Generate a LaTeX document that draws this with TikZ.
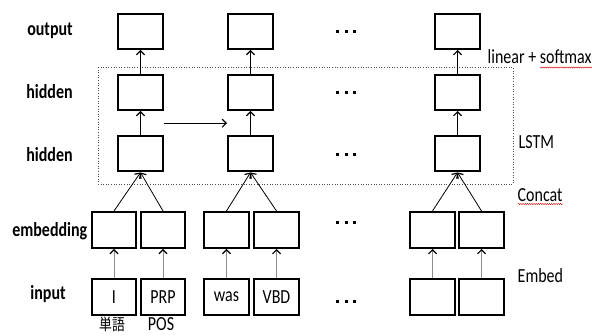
\documentclass[tikz,border=0pt]{standalone}
\usepackage{fontspec}
\setmainfont{Carlito}[FakeStretch=0.8]
\newfontfamily\cjk{Noto Sans CJK JP}[FakeStretch=0.8]
\usetikzlibrary{arrows.meta,calc,decorations.pathmorphing}
\begin{document}
\begin{tikzpicture}[x=1pt,y=-1pt,
  box/.style={draw=black,line width=2pt,minimum width=45pt,minimum height=35pt,inner sep=0pt,font=\fontsize{20}{22}\selectfont},
  ebox/.style={box,minimum width=44.5pt,minimum height=36pt},
  arr/.style={line width=0.8pt,-{Straight Barb[length=4pt,width=8pt,line width=1.2pt]}},
  garr/.style={line width=1pt,draw=black!45,-{Straight Barb[length=4pt,width=8pt,line width=1.2pt,color=black]}},
  lab/.style={font=\fontsize{20}{22}\selectfont\bfseries,inner sep=0pt},
  rlab/.style={font=\fontsize{20}{22}\selectfont,inner sep=0pt,anchor=west},
  squig/.style={draw=red!85!black,line width=0.4pt,decorate,decoration={snake,amplitude=0.6pt,segment length=2.2pt}}
]
\useasboundingbox (0,0) rectangle (592,336);
% dotted LSTM frame
\draw[dotted,line width=0.6pt,black!70] (98,67) rectangle (513,184);
% columns
\foreach \c/\x in {a/140.5,b/250.5,c/457.5}{
  \node[box] (out\c) at (\x,31.5) {};
  \node[box] (htwo\c) at (\x,92.5) {};
  \node[box] (hone\c) at (\x,154) {};
}
% embedding and input
\node[ebox] (ea1) at (114,230) {};
\node[ebox] (ea2) at (163,230) {};
\node[ebox] (eb1) at (226.5,230) {};
\node[ebox] (eb2) at (276.5,230) {};
\node[ebox] (ec1) at (432.5,230) {};
\node[ebox] (ec2) at (481.5,230) {};
\node[ebox] (ia1) at (114,297) {I};
\node[ebox] (ia2) at (163,297) {PRP};
\node[ebox] (ib1) at (226.5,297) {was};
\node[ebox] (ib2) at (276.5,297) {VBD};
\node[ebox] (ic1) at (432.5,297) {};
\node[ebox] (ic2) at (481.5,297) {};
% arrows
\foreach \c in {a,b,c}{
  \draw[arr] (hone\c.north) -- (htwo\c.south);
  \draw[arr] (htwo\c.north) -- (out\c.south);
  \draw[arr] (e\c1.north) -- (hone\c.south);
  \draw[arr] (e\c2.north) -- (hone\c.south);
  \draw[garr] (i\c1.north) -- (e\c1.south);
  \draw[garr] (i\c2.north) -- (e\c2.south);
}
\draw[arr] ($(honea.north east)!0.5!(htwoa.south east)$) -- ($(honeb.north west)!0.5!(htwob.south west)$);
% dots
\foreach \y in {31.5,93,155,222.5,302}{
  \foreach \x in {337.5,346,354.5}{
    \fill (\x-1.5,\y-1.5) rectangle (\x+1.5,\y+1.5);
  }
}
% left labels
\node[lab] (lout) at (50,31) {output};
\node[lab] (lh2) at (49.5,92) {hidden};
\node[lab] (lh1) at (49.5,154.5) {hidden};
\node[lab,anchor=east] (lemb) at (87.5,231) {embedding};
\node[lab] (lin) at (48,294.5) {input};
% bottom labels
\node[font=\fontsize{16}{18}\selectfont\cjk,inner sep=0pt] (lw) at (112,324) {単語};
\node[font=\fontsize{20}{22}\selectfont,inner sep=0pt] (lp) at (161,324) {POS};
% right labels
\node[rlab] (lls) at (487.5,57) {linear + softmax};
\node[rlab] (llstm) at (518.5,142) {LSTM};
\node[rlab] (lcc) at (517.5,195) {Concat};
\node[rlab] (lemb2) at (517.5,276) {Embed};
\draw[squig] (540,67.5) -- (592,67.5);
\draw[squig] (518,204) -- (563,204);
\end{tikzpicture}
\end{document}
